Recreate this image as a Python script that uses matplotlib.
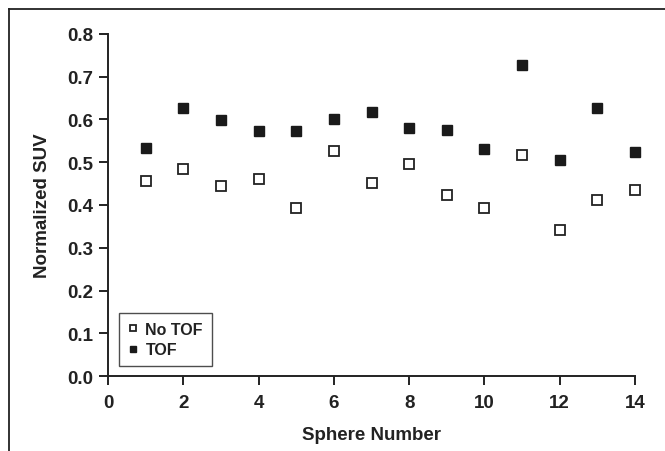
import matplotlib.pyplot as plt
from matplotlib.lines import Line2D

plt.rcParams['font.family'] = ['Liberation Sans', 'DejaVu Sans']
plt.rcParams['font.weight'] = 'bold'

#data
sphere = [1, 2, 3, 4, 5, 6, 7, 8, 9, 10, 11, 12, 13, 14]
suv_no_tof = [0.457, 0.484, 0.445, 0.460, 0.393, 0.525, 0.451, 0.496,
              0.424, 0.393, 0.517, 0.342, 0.412, 0.436]
suv_tof = [0.532, 0.627, 0.598, 0.573, 0.573, 0.601, 0.617, 0.579,
           0.575, 0.530, 0.727, 0.505, 0.627, 0.524]

fig = plt.figure(figsize=(6.65, 4.52), dpi=100)
ax = fig.add_axes([108/665, 1-377.3/452, 527/665, 342.6/452])

ax.plot(sphere, suv_no_tof, linestyle="none", marker="s", ms=6.5,
        mfc="white", mec="#222222", mew=1.3, label="No TOF", clip_on=False)
ax.plot(sphere, suv_tof, linestyle="none", marker="s", ms=6.5,
        mfc="#1a1a1a", mec="#1a1a1a", mew=1.0, label="TOF", clip_on=False)

ax.set_xlim(0, 14)
ax.set_ylim(0, 0.8)
ax.set_xticks(range(0, 15, 2))
ax.set_yticks([i/10 for i in range(9)])
ax.set_yticklabels(["%.1f" % (i/10) for i in range(9)])
ax.spines["top"].set_visible(False)
ax.spines["right"].set_visible(False)
for s in ["left", "bottom"]:
    ax.spines[s].set_linewidth(1.4)
    ax.spines[s].set_color("#222222")
ax.tick_params(direction="out", length=6.5, width=1.4, colors="#222222",
               labelsize=13.5, pad=4)
ax.tick_params(axis="x", pad=6)
for lab in ax.get_xticklabels() + ax.get_yticklabels():
    lab.set_fontweight("bold")
    lab.set_color("#222222")

ax.set_xlabel("Sphere Number", fontsize=13.5, fontweight="bold",
              color="#222222", labelpad=11)
ax.set_ylabel("Normalized SUV", fontsize=13.5, fontweight="bold",
              color="#222222", labelpad=12)

leg = ax.legend(loc="lower left", bbox_to_anchor=(0.021, 0.030),
                borderaxespad=0, frameon=True, fancybox=False, fontsize=11.5,
                markerscale=0.75, handlelength=0.6, handletextpad=0.5,
                borderpad=0.55, labelspacing=0.35)
leg.get_frame().set_edgecolor("#222222")
leg.get_frame().set_linewidth(1.0)
for t in leg.get_texts():
    t.set_fontweight("bold")
    t.set_color("#222222")

#outer frame (top and left only)
fig.add_artist(Line2D([9/665, 1], [1-10/452, 1-10/452], color="#222222",
                      lw=1.3, transform=fig.transFigure))
fig.add_artist(Line2D([9/665, 9/665], [0, 1-10/452], color="#222222",
                      lw=1.3, transform=fig.transFigure))

fig.savefig("out.png", dpi=100)
